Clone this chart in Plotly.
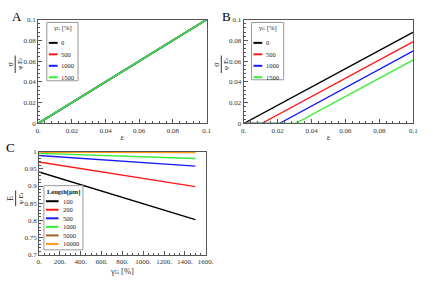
import plotly.graph_objects as go

# ---------------- data ----------------
gamma_names = ["0", "500", "1000", "1500"]
gamma_colors = ["#000000", "#ff1a1a", "#1a1aff", "#33ee33"]

epsA = [0.0, 0.1]
sigA_0 = [0.0, 0.1]
sigA_500 = [0.0, 0.1]
sigA_1000 = [0.0, 0.1]
sigA_1500 = [0.0, 0.1]

epsB_0 = [0.0, 0.1]
sigB_0 = [0.0, 0.088]
epsB_500 = [0.0, 0.0105, 0.1]
sigB_500 = [0.0, 0.0, 0.0787]
epsB_1000 = [0.0, 0.021, 0.1]
sigB_1000 = [0.0, 0.0, 0.0698]
epsB_1500 = [0.0, 0.0305, 0.1]
sigB_1500 = [0.0, 0.0, 0.0611]

length_names = ["100", "200", "500", "1000", "5000", "10000"]
length_colors = ["#000000", "#ff1a1a", "#1a1aff", "#33ee33", "#a0602a", "#ff9a1a"]
gammaC = [0, 1500]
EC_100 = [0.941, 0.802]
EC_200 = [0.970, 0.898]
EC_500 = [0.989, 0.958]
EC_1000 = [0.995, 0.980]
EC_5000 = [0.9995, 0.998]
EC_10000 = [0.998, 0.9975]

tickA_x = [0, 0.02, 0.04, 0.06, 0.08, 0.1]
tickA_x_text = ["0.", "0.02", "0.04", "0.06", "0.08", "0.1"]
tickA_y = [0, 0.02, 0.04, 0.06, 0.08, 0.1]
tickA_y_text = ["0", "0.02", "0.04", "0.06", "0.08", "0.1"]
tickC_x = [0, 200, 400, 600, 800, 1000, 1200, 1400, 1600]
tickC_x_text = ["0.", "200.", "400.", "600.", "800.", "1000.", "1200.", "1400.", "1600."]
tickC_y = [0.7, 0.75, 0.8, 0.85, 0.9, 0.95, 1.0]
tickC_y_text = ["0.7", "0.75", "0.8", "0.85", "0.9", "0.95", "1"]

GAMMA_G = "γ<span style='font-size:70%'>G</span>"
PHI_EF = "φ E<span style='font-size:70%'>f</span>"

# ---------------- figure ----------------
W, H = 433, 281
SERIF = "Liberation Serif"


def px(x):
    return x / W


def py(y):
    return 1 - y / H


fig = go.Figure()

A_series = [sigA_0, sigA_500, sigA_1000, sigA_1500]
for name, col, ys in zip(gamma_names, gamma_colors, A_series):
    fig.add_trace(go.Scatter(x=epsA, y=ys, mode="lines", name=name,
                             line=dict(color=col, width=1.6),
                             xaxis="x", yaxis="y", showlegend=False))

B_x = [epsB_0, epsB_500, epsB_1000, epsB_1500]
B_y = [sigB_0, sigB_500, sigB_1000, sigB_1500]
for name, col, xs, ys in zip(gamma_names, gamma_colors, B_x, B_y):
    fig.add_trace(go.Scatter(x=xs, y=ys, mode="lines", name=name,
                             line=dict(color=col, width=1.4),
                             xaxis="x2", yaxis="y2", showlegend=False))

C_series = [EC_100, EC_200, EC_500, EC_1000, EC_5000, EC_10000]
for name, col, ys in zip(length_names, length_colors, C_series):
    fig.add_trace(go.Scatter(x=gammaC, y=ys, mode="lines", name=name,
                             line=dict(color=col, width=1.4),
                             xaxis="x3", yaxis="y3", showlegend=False))


def axis(domain, anchor, rng, tv, tt, minor_dtick, tick0, title=None):
    d = dict(domain=domain, anchor=anchor, range=rng,
             tickmode="array", tickvals=tv, ticktext=tt,
             ticks="inside", ticklen=4, tickwidth=1, tickcolor="#555",
             showline=True, linecolor="#555", linewidth=1, mirror=True,
             showgrid=False, zeroline=False,
             tickfont=dict(family=SERIF, size=7, color="#333"),
             minor=dict(tickmode="linear", tick0=tick0, dtick=minor_dtick,
                        ticks="inside", ticklen=2, tickcolor="#555",
                        showgrid=False))
    if title:
        d["title"] = dict(text=title, font=dict(family=SERIF, size=8.5, color="#333"),
                          standoff=0)
    return d


xA = [px(36), px(209)]
xB = [px(247), px(421)]
xC = [px(37), px(208)]
yAB = [py(123), py(16)]
yC = [py(258), py(152)]

fig.update_layout(
    width=W, height=H,
    margin=dict(l=0, r=0, t=0, b=0),
    paper_bgcolor="white", plot_bgcolor="white",
    showlegend=False,
    xaxis=axis(xA, "y", [0, 0.1], tickA_x, tickA_x_text, 0.004, 0, "ε"),
    yaxis=axis(yAB, "x", [0, 0.1], tickA_y, tickA_y_text, 0.004, 0),
    xaxis2=axis(xB, "y2", [0, 0.1], tickA_x, tickA_x_text, 0.004, 0, "ε"),
    yaxis2=axis(yAB, "x2", [0, 0.1], tickA_y, tickA_y_text, 0.004, 0),
    xaxis3=axis(xC, "y3", [0, 1600], tickC_x, tickC_x_text, 50, 0,
                GAMMA_G + " [%]"),
    yaxis3=axis(yC, "x3", [0.7, 1.0], tickC_y, tickC_y_text, 0.01, 0.7),
)

annotations = []
shapes = []

# panel letters
for letter, x, y in [("A", 14, 13), ("B", 229, 13), ("C", 8, 148)]:
    annotations.append(dict(text=letter, x=px(x), y=py(y), xref="paper", yref="paper",
                            xanchor="center", yanchor="middle",
                            showarrow=False, font=dict(family=SERIF, size=13, color="#000")))


# fraction y-labels
def frac_label(num, den, xbar, ycen, half):
    annotations.append(dict(text=num, x=px(xbar - 5), y=py(ycen), xref="paper", yref="paper",
                            xanchor="center", yanchor="middle",
                            textangle=-90, showarrow=False,
                            font=dict(family=SERIF, size=8, color="#222")))
    annotations.append(dict(text=den, x=px(xbar + 5.5), y=py(ycen), xref="paper", yref="paper",
                            xanchor="center", yanchor="middle",
                            textangle=-90, showarrow=False,
                            font=dict(family=SERIF, size=7, color="#222")))
    shapes.append(dict(type="line", xref="paper", yref="paper",
                       x0=px(xbar), x1=px(xbar), y0=py(ycen - half), y1=py(ycen + half),
                       line=dict(color="#333", width=1)))


frac_label("σ", PHI_EF, 12.5, 62, 9)
frac_label("σ", PHI_EF, 224, 62, 9)
frac_label("E", PHI_EF, 13, 200, 8)


# manual legends
def legend(x0, x1, y0, y1, title, title_y, names, colors, ystart, ystep, lx0, lx1, tx):
    shapes.append(dict(type="rect", xref="paper", yref="paper",
                       x0=px(x0), x1=px(x1), y0=py(y1), y1=py(y0),
                       line=dict(color="#999", width=1), fillcolor="white"))
    annotations.append(dict(text=title, x=px((x0 + x1) / 2), y=py(title_y),
                            xref="paper", yref="paper", showarrow=False,
                            xanchor="center", yanchor="middle",
                            font=dict(family=SERIF, size=6.5, color="#222")))
    for i, (n, c) in enumerate(zip(names, colors)):
        yy = ystart + i * ystep
        shapes.append(dict(type="line", xref="paper", yref="paper",
                           x0=px(lx0), x1=px(lx1), y0=py(yy), y1=py(yy),
                           line=dict(color=c, width=2)))
        annotations.append(dict(text=n, x=px(tx), y=py(yy), xref="paper", yref="paper",
                                xanchor="left", yanchor="middle", showarrow=False,
                                font=dict(family=SERIF, size=6.5, color="#222")))


legend(45, 77, 19, 79, GAMMA_G + " [%]", 25, gamma_names, gamma_colors, 40, 11.8, 47, 56, 57.5)
legend(255, 288, 19, 78, GAMMA_G + " [%]", 25, gamma_names, gamma_colors, 40, 11.8, 257, 266, 267.5)
legend(42, 82, 187, 253, "<b>Length[μm]</b>", 193, length_names, length_colors, 203, 8.8, 44, 57, 59)

fig.update_layout(annotations=annotations, shapes=shapes)

fig.write_html("out.html")
